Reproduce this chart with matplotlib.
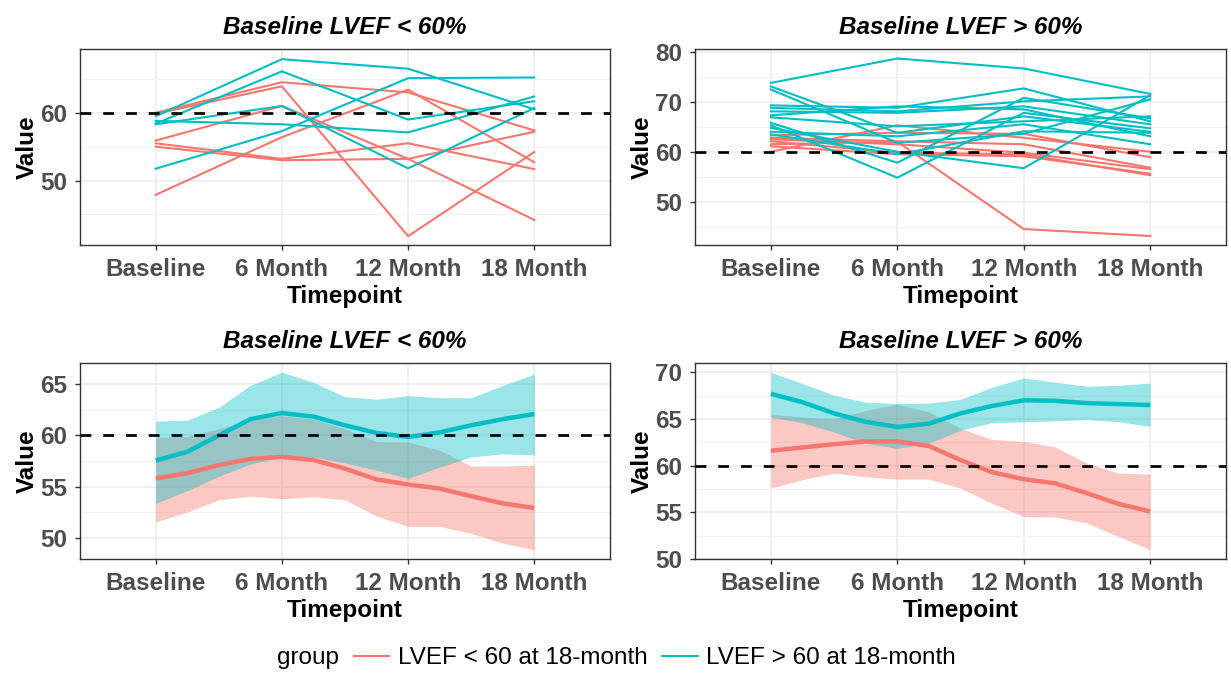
import numpy as np
import matplotlib
matplotlib.use("Agg")
import matplotlib.pyplot as plt
from matplotlib.lines import Line2D

plt.rcParams['font.family'] = ['Liberation Sans', 'DejaVu Sans']

timepoints = ['Baseline', '6 Month', '12 Month', '18 Month']
group_names = ['LVEF < 60 at 18-month', 'LVEF > 60 at 18-month']
RED = '#F8766D'
CYAN = '#00BFC4'

# ---- individual trajectories, baseline LVEF < 60%
low_red = [
    [60.0, 64.5, 63.0, 57.4],
    [59.85, 63.9, 41.8, 54.2],
    [47.9, 56.4, 63.4, 52.7],
    [55.9, 61.0, 53.2, 44.2],
    [55.5, 53.2, 55.5, 51.7],
    [55.0, 53.0, 53.2, 57.2],
]
low_cyan = [
    [59.5, 67.9, 66.5, 60.5],
    [58.4, 66.1, 59.0, 61.7],
    [58.3, 61.0, 51.8, 60.7],
    [58.8, 58.3, 57.1, 62.4],
    [51.75, 57.3, 65.1, 65.2],
]

# ---- individual trajectories, baseline LVEF > 60%
high_red = [
    [61.5, 62.0, 44.5, 43.1],
    [60.0, 65.3, 62.8, 60.0],
    [63.3, 63.8, 63.6, 58.9],
    [62.8, 62.1, 61.5, 56.8],
    [62.5, 61.5, 59.8, 56.5],
    [62.1, 59.8, 59.5, 55.3],
    [61.1, 59.5, 59.1, 55.6],
]
high_cyan = [
    [73.8, 78.7, 76.7, 71.6],
    [73.1, 63.8, 67.1, 64.0],
    [72.5, 61.8, 63.6, 70.5],
    [69.3, 68.8, 72.7, 66.1],
    [68.8, 68.1, 70.1, 71.1],
    [68.1, 67.8, 69.1, 65.5],
    [67.3, 69.1, 68.5, 63.1],
    [66.9, 65.1, 66.1, 67.1],
    [65.8, 57.8, 70.8, 66.7],
    [65.3, 54.8, 67.8, 64.7],
    [64.8, 60.0, 56.7, 71.3],
    [64.0, 63.1, 65.5, 61.5],
    [63.5, 59.5, 64.1, 63.8],
]

# ---- smoothed fits
smooth_x = [0.0, 0.25, 0.5, 0.75, 1.0, 1.25, 1.5, 1.75, 2.0, 2.25, 2.5, 2.75, 3.0]

low_red_fit = [55.8, 56.3, 57.1, 57.7, 57.9, 57.6, 56.75, 55.7, 55.2, 54.8, 54.05, 53.35, 52.9]
low_red_hi = [59.8, 59.9, 60.65, 61.5, 61.95, 61.6, 60.65, 59.4, 59.35, 58.55, 57.0, 57.0, 57.1]
low_red_lo = [51.55, 52.5, 53.7, 54.05, 53.8, 54.0, 53.7, 52.1, 51.1, 51.1, 50.4, 49.45, 48.8]
low_cyan_fit = [57.55, 58.4, 60.0, 61.6, 62.2, 61.85, 61.0, 60.25, 59.85, 60.3, 61.0, 61.6, 62.1]
low_cyan_hi = [61.4, 61.5, 62.75, 64.9, 66.2, 65.2, 63.8, 63.55, 63.9, 63.7, 63.7, 64.9, 66.0]
low_cyan_lo = [53.35, 54.6, 56.0, 57.2, 57.9, 57.9, 57.3, 56.6, 55.8, 56.9, 57.9, 58.2, 58.1]

high_red_fit = [61.6, 61.95, 62.3, 62.6, 62.6, 62.1, 60.6, 59.3, 58.55, 58.1, 57.05, 55.9, 55.1]
high_red_hi = [65.5, 65.2, 65.0, 65.9, 66.6, 65.75, 64.0, 62.8, 62.6, 62.0, 60.25, 59.2, 59.1]
high_red_lo = [57.6, 58.5, 59.2, 58.8, 58.55, 58.55, 57.6, 55.95, 54.55, 54.5, 53.85, 52.4, 51.0]
high_cyan_fit = [67.7, 66.8, 65.6, 64.7, 64.15, 64.5, 65.6, 66.4, 67.0, 66.95, 66.7, 66.6, 66.5]
high_cyan_hi = [70.0, 68.8, 67.55, 66.8, 66.65, 66.7, 67.1, 68.4, 69.4, 68.95, 68.5, 68.6, 68.85]
high_cyan_lo = [65.2, 64.6, 63.6, 62.4, 61.85, 62.4, 63.8, 64.6, 64.7, 64.8, 64.95, 64.7, 64.2]

FS = 17.5
W, H = 1231, 675
fig = plt.figure(figsize=(W / 100, H / 100), dpi=100)


def make_axes(left, top, right, bottom):
    return fig.add_axes([left / W, 1 - bottom / H, (right - left) / W, (bottom - top) / H])


def style(ax, title, ylim, major, minor):
    ax.set_xlim(-0.6, 3.6)
    ax.set_ylim(*ylim)
    ax.set_xticks(range(len(timepoints)))
    ax.set_xticklabels(timepoints)
    ax.set_yticks(major)
    ax.set_yticks(minor, minor=True)
    ax.grid(which='major', color='#EBEBEB', lw=1.1)
    ax.grid(which='minor', axis='y', color='#F2F2F2', lw=0.7)
    ax.set_axisbelow(True)
    ax.tick_params(which='major', length=3.5, width=1, color='#333333',
                   labelsize=FS, labelcolor='#4D4D4D')
    ax.tick_params(axis='x', which='major', pad=6)
    ax.tick_params(axis='y', which='major', pad=5.5)
    ax.tick_params(which='minor', length=0)
    for lab in ax.get_xticklabels() + ax.get_yticklabels():
        lab.set_fontweight('bold')
    for sp in ax.spines.values():
        sp.set_color('#333333')
        sp.set_linewidth(1.0)
    ax.axhline(60, color='black', lw=1.95, ls=(0, (4, 4.4)), zorder=10)
    ax.set_title(title, fontsize=FS, fontweight='bold', fontstyle='italic', pad=10.5)
    ax.set_xlabel('Timepoint', fontsize=FS, fontweight='bold', labelpad=3)
    ax.set_ylabel('Value', fontsize=FS, fontweight='bold', labelpad=1.5)


x = np.arange(len(timepoints))

ax1 = make_axes(80, 49, 610, 245)
for row in low_red:
    ax1.plot(x, row, color=RED, lw=1.5)
for row in low_cyan:
    ax1.plot(x, row, color=CYAN, lw=1.5)
style(ax1, 'Baseline LVEF < 60%', (40.5, 69.4), [50, 60], [45, 55, 65])

ax2 = make_axes(695, 49, 1226, 245)
for row in high_red:
    ax2.plot(x, row, color=RED, lw=1.5)
for row in high_cyan:
    ax2.plot(x, row, color=CYAN, lw=1.5)
style(ax2, 'Baseline LVEF > 60%', (41.3, 80.6), [50, 60, 70, 80], [45, 55, 65, 75])


def smooth(ax, fit, lo, hi, color):
    ax.fill_between(smooth_x, lo, hi, color=color, alpha=0.4, lw=0)
    ax.plot(smooth_x, fit, color=color, lw=3.2, solid_capstyle='butt')


ax3 = make_axes(80, 363, 610, 559)
smooth(ax3, low_red_fit, low_red_lo, low_red_hi, RED)
smooth(ax3, low_cyan_fit, low_cyan_lo, low_cyan_hi, CYAN)
style(ax3, 'Baseline LVEF < 60%', (47.9, 67.1), [50, 55, 60, 65], [52.5, 57.5, 62.5])

ax4 = make_axes(695, 363, 1226, 559)
smooth(ax4, high_red_fit, high_red_lo, high_red_hi, RED)
smooth(ax4, high_cyan_fit, high_cyan_lo, high_cyan_hi, CYAN)
style(ax4, 'Baseline LVEF > 60%', (50.0, 71.0), [50, 55, 60, 65, 70], [52.5, 57.5, 62.5, 67.5])

handles = [Line2D([], [], color=RED, lw=1.5), Line2D([], [], color=CYAN, lw=1.5)]
fig.text(277 / W, 1 - 658 / H, 'group', fontsize=FS, va='center', ha='left')
fig.legend(handles, group_names, loc='center', bbox_to_anchor=(655 / W, 1 - 658 / H),
           ncol=2, frameon=False, fontsize=FS, handlelength=1.45,
           handletextpad=0.35, columnspacing=0.6, borderpad=0)

fig.savefig('out.png', dpi=100, facecolor='white')
